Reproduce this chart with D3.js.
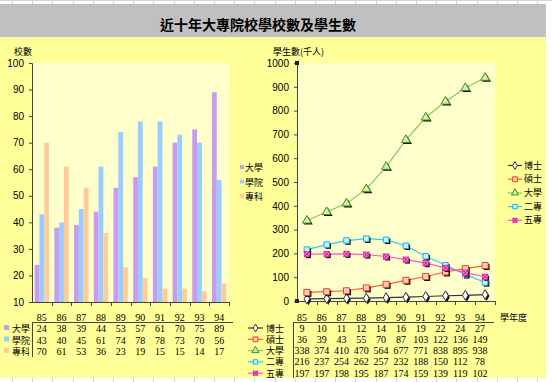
<!DOCTYPE html>
<html><head><meta charset="utf-8">
<script src="https://cdn.jsdelivr.net/npm/d3@7"></script>
<style>body{margin:0;background:#fff}svg{display:block}</style>
</head><body><svg id="c" width="552" height="382"></svg>
<script>
const years = ["85","86","87","88","89","90","91","92","93","94"];
const schoolSeries = ["大學","學院","專科"];
const univCount = [24,38,39,44,53,57,61,70,75,89];
const collegeCount = [43,40,45,61,74,78,78,73,70,56];
const juniorCount = [70,61,53,36,23,19,15,15,14,17];
const studentSeries = ["博士","碩士","大學","二專","五專"];
const phdStudents = [9,10,11,12,14,16,19,22,24,27];
const masterStudents = [36,39,43,55,70,87,103,122,136,149];
const univStudents = [338,374,410,470,564,677,771,838,895,938];
const twoYearStudents = [216,237,254,262,257,232,188,150,112,78];
const fiveYearStudents = [197,197,198,195,187,174,159,139,119,102];
const leftTicks = [10,20,30,40,50,60,70,80,90,100];
const rightTicks = [0,100,200,300,400,500,600,700,800,900,1000];

const svg = d3.select("#c");
const CJK = "'Noto Sans CJK TC','Noto Sans CJK SC',sans-serif";
const CJK_TIGHT = "'Liberation Sans','Noto Sans CJK TC',sans-serif";
const SANS = "'Liberation Sans',Arial,sans-serif";
const SERIF = "'Liberation Serif','Times New Roman',serif";
const CJKSIZE = 9;

// spreadsheet grid background
const grid = svg.append("g").attr("stroke","#d4d4d4").attr("stroke-width",1);
d3.range(12,552,20.2).forEach(x=>{
  grid.append("line").attr("x1",Math.round(x)+.5).attr("x2",Math.round(x)+.5).attr("y1",0).attr("y2",382);
});
grid.append("line").attr("x1",0).attr("x2",552).attr("y1",0.5).attr("y2",0.5);
// panel
svg.append("rect").attr("x",0).attr("y",4).attr("width",546).attr("height",33).attr("fill","#c0c0c0");
svg.append("rect").attr("x",0).attr("y",37).attr("width",546).attr("height",341).attr("fill","#ffff99");
svg.append("text").attr("x",258).attr("y",30).attr("text-anchor","middle")
  .attr("font-family",CJK).attr("font-weight","bold").attr("font-size",14).attr("fill","#000")
  .text("近十年大專院校學校數及學生數");

// ---------- LEFT: bar chart ----------
const L = {x0:32, x1:229, y0:63, y1:302};
svg.append("rect").attr("x",L.x0).attr("y",L.y0).attr("width",L.x1-L.x0).attr("height",L.y1-L.y0).attr("fill","#ffffcc");
const xL = d3.scaleBand().domain(years).range([L.x0,L.x1]).paddingInner(0.27).paddingOuter(0.135);
const xSub = d3.scaleBand().domain(schoolSeries).range([0,xL.bandwidth()]);
const yL = d3.scaleLinear().domain([10,100]).range([L.y1,L.y0]);
const barColors = {"大學":"#c99bf2","學院":"#99ccff","專科":"#ffcc99"};
const barData = {"大學":univCount,"學院":collegeCount,"專科":juniorCount};
schoolSeries.forEach(s=>{
  svg.append("g").selectAll("rect").data(years).join("rect")
    .attr("x",(d)=>xL(d)+xSub(s))
    .attr("width",xSub.bandwidth())
    .attr("y",(d,i)=>yL(barData[s][i]))
    .attr("height",(d,i)=>yL(10)-yL(barData[s][i]))
    .attr("fill",barColors[s]);
});
const axL = svg.append("g").attr("transform",`translate(${L.x0},0)`)
  .call(d3.axisLeft(yL).tickValues(leftTicks).tickSize(3).tickPadding(5).tickFormat(d3.format("d")));
axL.selectAll("text").attr("font-family",SANS).attr("font-size",10).attr("fill","#000");
axL.selectAll("line,path").attr("stroke","#444");
const xaxL = svg.append("g");
xaxL.append("line").attr("x1",L.x0).attr("x2",L.x1).attr("y1",L.y1+.5).attr("y2",L.y1+.5).attr("stroke","#444");
years.forEach((d,i)=>{
  const xx = Math.round(L.x0 + xL.step()*(i+1))+.5;
  xaxL.append("line").attr("x1",xx).attr("x2",xx).attr("y1",L.y1).attr("y2",L.y1+4).attr("stroke","#444");
});
svg.append("text").attr("x",14).attr("y",55).attr("font-family",CJK).attr("font-size",CJKSIZE).text("校數");
// legend
schoolSeries.forEach((s,i)=>{
  const y = 168 + i*14.5;
  svg.append("rect").attr("x",240).attr("y",y-3).attr("width",4).attr("height",4).attr("fill",barColors[s]);
  svg.append("text").attr("x",245).attr("y",y+3).attr("font-family",CJK).attr("font-size",CJKSIZE).text(s);
});
// data table
const tL = svg.append("g");
const colX = d => xL(d)+xL.bandwidth()/2;
tL.selectAll("text.h").data(years).join("text").attr("class","h")
  .attr("x",colX).attr("y",321).attr("text-anchor","middle")
  .attr("font-family",SERIF).attr("font-size",10).text(d=>d);
tL.append("line").attr("x1",L.x0).attr("x2",233).attr("y1",322.5).attr("y2",322.5).attr("stroke","#444");
tL.append("line").attr("x1",L.x0+.5).attr("x2",L.x0+.5).attr("y1",322).attr("y2",357).attr("stroke","#444");
schoolSeries.forEach((s,r)=>{
  const y = 332 + r*11.5;
  tL.append("rect").attr("x",4).attr("y",y-7).attr("width",5).attr("height",5).attr("fill",barColors[s]);
  tL.append("text").attr("x",12).attr("y",y).attr("font-family",CJK_TIGHT).attr("font-size",CJKSIZE).text(s);
  tL.selectAll(null).data(years).join("text")
    .attr("x",colX).attr("y",y).attr("text-anchor","middle")
    .attr("font-family",SERIF).attr("font-size",10).text((d,i)=>barData[s][i]);
});

// ---------- RIGHT: line chart ----------
const R = {x0:297, x1:495, y0:63, y1:301};
svg.append("rect").attr("x",R.x0).attr("y",R.y0).attr("width",R.x1-R.x0).attr("height",R.y1-R.y0).attr("fill","#ffffcc");
const xR = d3.scalePoint().domain(years).range([R.x0,R.x1]).padding(0.5);
const yR = d3.scaleLinear().domain([0,1000]).range([R.y1,R.y0]);
const axR = svg.append("g").attr("transform",`translate(${R.x0},0)`)
  .call(d3.axisLeft(yR).tickValues(rightTicks).tickSize(3).tickPadding(5).tickFormat(d3.format("d")));
axR.selectAll("text").attr("font-family",SANS).attr("font-size",10).attr("fill","#000");
axR.selectAll("line,path").attr("stroke","#444");
const xaxR = svg.append("g");
xaxR.append("line").attr("x1",R.x0).attr("x2",R.x1).attr("y1",R.y1+.5).attr("y2",R.y1+.5).attr("stroke","#444");
years.forEach((d,i)=>{
  const xx = Math.round(R.x0 + xR.step()*(i+1))+.5;
  xaxR.append("line").attr("x1",xx).attr("x2",xx).attr("y1",R.y1).attr("y2",R.y1+4).attr("stroke","#444");
});
svg.append("rect").attr("x",R.x0-2).attr("y",R.y0-2).attr("width",4).attr("height",4).attr("fill","#222");
svg.append("rect").attr("x",R.x0-2).attr("y",R.y1-2).attr("width",4).attr("height",4).attr("fill","#222");
svg.append("text").attr("x",273).attr("y",55).attr("font-family",CJK).attr("font-size",CJKSIZE).text("學生數(千人)");

const lineData = {"博士":phdStudents,"碩士":masterStudents,"大學":univStudents,"二專":twoYearStudents,"五專":fiveYearStudents};
const lineStyle = {
  "博士":{line:"#333333", fill:"#ffffff", stroke:"#333333", sym:d3.symbolDiamond, size:28},
  "碩士":{line:"#ff5a33", fill:"#ffd0c0", stroke:"#e8401a", sym:d3.symbolSquare, size:36},
  "大學":{line:"#88c864", fill:"#d8f0a0", stroke:"#3d8a2a", sym:d3.symbolTriangle, size:34},
  "二專":{line:"#33ccf0", fill:"#ccf4ff", stroke:"#18b0e0", sym:d3.symbolSquare, size:30},
  "五專":{line:"#ff55c8", fill:"#ff88dd", stroke:"#e030b0", sym:d3.symbolSquare, size:26}
};
const lineGen = d3.line().x((d,i)=>xR(years[i])).y(d=>yR(d));
function marker(g, s, x, y, shadow, scale){
  const st = lineStyle[s];
  const k = scale || 1;
  const p = d3.symbol().type(st.sym).size(st.size*k*k)();
  if (shadow) g.append("path").attr("d",p).attr("transform",`translate(${x+1.5},${y+1.5})`).attr("fill","#111");
  g.append("path").attr("d",p).attr("transform",`translate(${x},${y})`)
    .attr("fill",st.fill).attr("stroke",st.stroke).attr("stroke-width",1);
  if (s==="五專"){
    const r = 3*k;
    g.append("path").attr("d",`M${x-r},${y-r}L${x+r},${y+r}M${x+r},${y-r}L${x-r},${y+r}`).attr("stroke","#c0108a").attr("stroke-width",1);
  }
}
studentSeries.forEach(s=>{
  const g = svg.append("g");
  g.append("path").datum(lineData[s]).attr("d",lineGen).attr("fill","none")
    .attr("stroke",lineStyle[s].line).attr("stroke-width",1.2);
  lineData[s].forEach((v,i)=>marker(g,s,xR(years[i]),yR(v),true));
});
// legend
studentSeries.forEach((s,i)=>{
  const y = 165.5 + i*13.7;
  const g = svg.append("g");
  g.append("line").attr("x1",508).attr("x2",522).attr("y1",y).attr("y2",y).attr("stroke",lineStyle[s].line).attr("stroke-width",1.2);
  marker(g,s,515,y,false,0.8);
  g.append("text").attr("x",524).attr("y",y+3).attr("font-family",CJK).attr("font-size",CJKSIZE).text(s);
});
// data table
const tR = svg.append("g");
const colXR = d => xR(d)-5;
tR.selectAll("text.h").data(years).join("text").attr("class","h")
  .attr("x",colXR).attr("y",321).attr("text-anchor","middle")
  .attr("font-family",SERIF).attr("font-size",10).text(d=>d);
tR.append("text").attr("x",500).attr("y",321).attr("font-family",CJK).attr("font-size",CJKSIZE).text("學年度");
tR.append("line").attr("x1",293).attr("x2",494).attr("y1",322.5).attr("y2",322.5).attr("stroke","#444");
tR.append("line").attr("x1",293.5).attr("x2",293.5).attr("y1",322).attr("y2",378).attr("stroke","#444");
studentSeries.forEach((s,r)=>{
  const y = 331.5 + r*11.3;
  const g = tR.append("g");
  g.append("line").attr("x1",248).attr("x2",263).attr("y1",y-3.5).attr("y2",y-3.5).attr("stroke",lineStyle[s].line).attr("stroke-width",1.2);
  marker(g,s,255.5,y-3.5,false,0.8);
  g.append("text").attr("x",266).attr("y",y).attr("font-family",CJK_TIGHT).attr("font-size",CJKSIZE).text(s);
  g.selectAll(null).data(years).join("text")
    .attr("x",colXR).attr("y",y).attr("text-anchor","middle")
    .attr("font-family",SERIF).attr("font-size",10).text((d,i)=>lineData[s][i]);
});
</script></body></html>
